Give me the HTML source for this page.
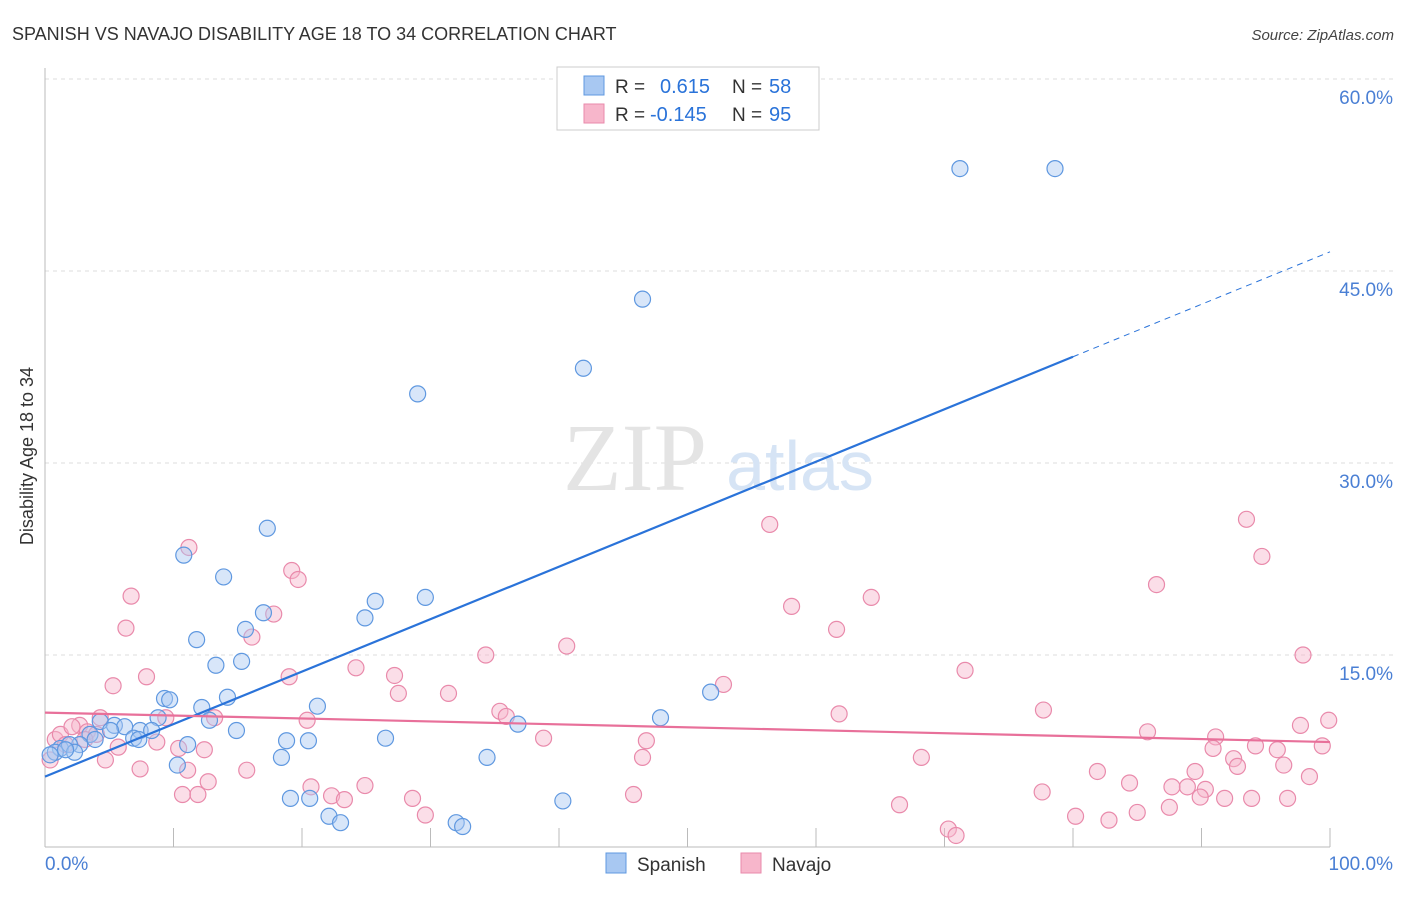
<!DOCTYPE html>
<html><head><meta charset="utf-8"><style>
body{margin:0;background:#fff;font-family:"Liberation Sans",sans-serif;}
#wrap{position:relative;width:1406px;height:892px;}
</style></head><body>
<div id="wrap">
<svg id="svg" width="1406" height="892" xmlns="http://www.w3.org/2000/svg"></svg>
</div>
<script>
const xTicks=[0,10,20,30,40,50,60,70,80,90,100];
const yTicks=[15,30,45,60];
const yTickLabels=["15.0%","30.0%","45.0%","60.0%"];
const spanishX=[71.2,78.6,46.5,41.9,29.0,17.3,10.8,13.9,25.7,29.6,17.0,24.9,11.8,15.6,13.3,15.3,9.3,9.7,14.2,12.2,21.2,8.8,12.8,14.9,4.3,5.4,6.2,7.4,8.3,6.9,7.3,3.5,2.7,1.2,1.9,0.8,0.4,2.3,11.1,10.3,18.8,20.5,26.5,36.8,47.9,51.8,18.4,34.4,19.1,20.6,22.1,23.0,32.0,32.5,40.3,5.1,1.6,3.9];
const spanishY=[53.0,53.0,42.8,37.4,35.4,24.9,22.8,21.1,19.2,19.5,18.3,17.9,16.2,17.0,14.2,14.5,11.6,11.5,11.7,10.9,11.0,10.1,9.9,9.1,9.8,9.5,9.4,9.1,9.1,8.5,8.4,8.8,8.0,7.7,8.0,7.4,7.2,7.4,8.0,6.4,8.3,8.3,8.5,9.6,10.1,12.1,7.0,7.0,3.8,3.8,2.4,1.9,1.9,1.6,3.6,9.1,7.6,8.4];
const navajoX=[93.5,56.4,94.7,11.2,86.5,6.7,19.2,19.7,58.1,64.3,6.3,17.8,16.1,61.6,40.6,34.3,97.9,24.2,71.6,7.9,27.2,5.3,19.0,52.8,27.5,31.4,9.4,13.2,20.4,35.4,35.9,61.8,77.7,4.3,2.7,85.8,91.1,97.7,99.9,38.8,46.8,8.7,10.4,12.4,5.7,94.2,95.9,90.9,99.4,92.5,92.8,96.4,46.5,68.2,4.7,7.4,11.1,15.7,81.9,89.5,98.4,24.9,84.4,20.7,12.7,88.9,90.3,77.6,22.3,23.3,28.6,45.8,10.7,11.9,89.9,91.8,93.9,96.7,85.0,87.5,66.5,29.6,80.2,82.8,70.3,70.9,0.8,1.2,2.1,0.4,3.3,4.0,1.6,87.7,3.1];
const navajoY=[25.6,25.2,22.7,23.4,20.5,19.6,21.6,20.9,18.8,19.5,17.1,18.2,16.4,17.0,15.7,15.0,15.0,14.0,13.8,13.3,13.4,12.6,13.3,12.7,12.0,12.0,10.1,10.1,9.9,10.6,10.2,10.4,10.7,10.1,9.5,9.0,8.6,9.5,9.9,8.5,8.3,8.2,7.7,7.6,7.8,7.9,7.6,7.7,7.9,6.9,6.3,6.4,7.0,7.0,6.8,6.1,6.0,6.0,5.9,5.9,5.5,4.8,5.0,4.7,5.1,4.7,4.5,4.3,4.0,3.7,3.8,4.1,4.1,4.1,3.9,3.8,3.8,3.8,2.7,3.1,3.3,2.5,2.4,2.1,1.4,0.9,8.4,8.8,9.4,6.8,9.0,8.8,8.0,4.7,8.4];
const spanishTrend=[5.5,46.5];
const navajoTrend=[10.5,8.2];

const svg=document.getElementById('svg');
const NS='http://www.w3.org/2000/svg';
const X=v=>45+v*12.85, Y=v=>847-v*12.8;
function mk(tag,attrs,parent){const e=document.createElementNS(NS,tag);for(const k in attrs)e.setAttribute(k,attrs[k]);(parent||svg).appendChild(e);return e;}
function txt(s,attrs,name){const t=mk('text',attrs);t.textContent=s;return t;}

yTicks.forEach((v,i)=>{
 const g=mk('line',{x1:45,x2:1395,y1:Y(v),y2:Y(v),stroke:'#ddd','stroke-dasharray':'4,4'});
 
 
 txt(yTickLabels[i],{x:1393,y:Y(v)+25,'text-anchor':'end','font-size':19,fill:'#4a7fd4'},'y-tick-label');
});
const gt=mk('line',{x1:45,x2:1395,y1:Y(60),y2:Y(60),stroke:'#ddd','stroke-dasharray':'4,4'});
const ax=mk('line',{x1:45,x2:1330,y1:847,y2:847,stroke:'#bbb'});


const ay=mk('line',{x1:45,x2:45,y1:68,y2:847,stroke:'#bbb'});


xTicks.forEach(v=>{if(v===0)return;const t=mk('line',{x1:X(v),x2:X(v),y1:828,y2:847,stroke:'#bbb'});
 
 });
txt('0.0%',{x:45,y:870,'font-size':19,fill:'#4a7fd4'},'x-min-label');
txt('100.0%',{x:1393,y:870,'text-anchor':'end','font-size':19,fill:'#4a7fd4'},'x-max-label');

const wm=txt('ZIP',{x:635,y:490,'text-anchor':'middle','font-size':96,fill:'#e4e4e4','font-family':'Liberation Serif'},'watermark-zip');
txt('atlas',{x:800,y:490,'text-anchor':'middle','font-size':70,fill:'#d6e4f5'},'watermark-atlas');

function pts(xs,ys,fill,stroke,name){xs.forEach((x,i)=>{const c=mk('circle',{cx:X(x),cy:Y(ys[i]),r:8,fill:fill,'fill-opacity':0.45,stroke:stroke,'stroke-width':1.2});
 
 });}
pts(navajoX,navajoY,'#f7b6cb','#e98aab','navajo-point');
pts(spanishX,spanishY,'#a8c8f2','#5f98e0','spanish-point');

const st=mk('line',{x1:X(0),y1:Y(spanishTrend[0]),x2:X(80),y2:Y(spanishTrend[0]+(spanishTrend[1]-spanishTrend[0])*0.8),stroke:'#2a73d9','stroke-width':2.2});


const sd=mk('line',{x1:X(80),y1:Y(spanishTrend[0]+(spanishTrend[1]-spanishTrend[0])*0.8),x2:X(100),y2:Y(spanishTrend[1]),stroke:'#2a73d9','stroke-width':1,'stroke-dasharray':'6,5'});


const nt=mk('line',{x1:X(0),y1:Y(navajoTrend[0]),x2:X(100),y2:Y(navajoTrend[1]),stroke:'#e8709a','stroke-width':2.2});



txt('SPANISH VS NAVAJO DISABILITY AGE 18 TO 34 CORRELATION CHART',{x:12,y:40,'font-size':18,fill:'#333'},'chart-title');
txt('Source: ZipAtlas.com',{x:1394,y:40,'text-anchor':'end','font-size':15,fill:'#444','font-style':'italic'},'source-label');
txt('Disability Age 18 to 34',{x:33,y:456,'text-anchor':'middle','font-size':18,fill:'#333',transform:'rotate(-90 33 456)'},'y-axis-title');

const lg=mk('rect',{x:557,y:67,width:262,height:63,fill:'#fff',stroke:'#ccc'});


mk('rect',{x:584,y:76,width:20,height:19,fill:'#a8c8f2',stroke:'#5f98e0'});
mk('rect',{x:584,y:104,width:20,height:19,fill:'#f7b6cb',stroke:'#e98aab'});
txt('R =',{x:615,y:93,'font-size':19,fill:'#333'},'r-label');
txt('0.615',{x:660,y:93,'font-size':20,fill:'#2a73d9'},'spanish-r');
txt('N =',{x:732,y:93,'font-size':19,fill:'#333'},'n-label');
txt('58',{x:769,y:93,'font-size':20,fill:'#2a73d9'},'spanish-n');
txt('R =',{x:615,y:121,'font-size':19,fill:'#333'},'r-label');
txt('-0.145',{x:650,y:121,'font-size':20,fill:'#2a73d9'},'navajo-r');
txt('N =',{x:732,y:121,'font-size':19,fill:'#333'},'n-label');
txt('95',{x:769,y:121,'font-size':20,fill:'#2a73d9'},'navajo-n');

const l1=mk('rect',{x:606,y:853,width:20,height:20,fill:'#a8c8f2',stroke:'#5f98e0'});


txt('Spanish',{x:637,y:871,'font-size':19,fill:'#333'},'legend-spanish');
const l2=mk('rect',{x:741,y:853,width:20,height:20,fill:'#f7b6cb',stroke:'#e98aab'});


txt('Navajo',{x:772,y:871,'font-size':19,fill:'#333'},'legend-navajo');
</script>
</body></html>
